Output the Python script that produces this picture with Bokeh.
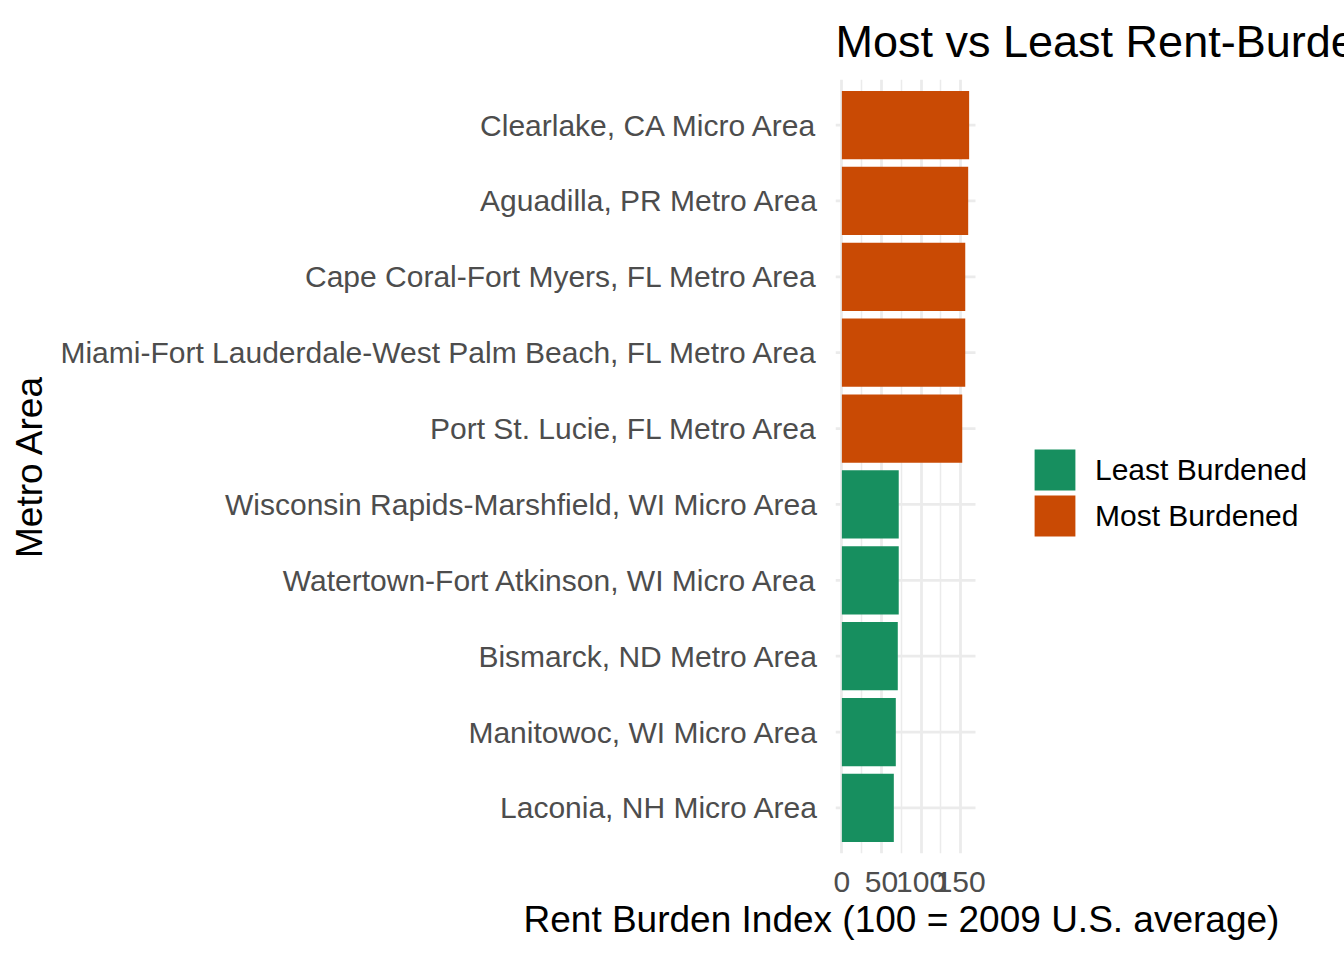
from bokeh.plotting import figure
from bokeh.models import (FactorRange, Range1d, FixedTicker, Legend, LegendItem,
                          ColumnDataSource, Title)
from bokeh.embed import file_html
from bokeh.resources import INLINE

# ---- data (bottom to top) ----
metros = [
    "Laconia, NH Micro Area",
    "Manitowoc, WI Micro Area",
    "Bismarck, ND Metro Area",
    "Watertown-Fort Atkinson, WI Micro Area",
    "Wisconsin Rapids-Marshfield, WI Micro Area",
    "Port St. Lucie, FL Metro Area",
    "Miami-Fort Lauderdale-West Palm Beach, FL Metro Area",
    "Cape Coral-Fort Myers, FL Metro Area",
    "Aguadilla, PR Metro Area",
    "Clearlake, CA Micro Area",
]
burden_index = [65.6, 68.1, 70.6, 71.8, 71.8, 152.0, 155.8, 155.8, 159.5, 160.7]
groups = ["Least Burdened"] * 5 + ["Most Burdened"] * 5
group_names = ["Least Burdened", "Most Burdened"]
group_colors = {"Least Burdened": "#178F5F", "Most Burdened": "#C94A04"}
x_ticks = [0, 50, 100, 150]
x_minor = [25, 75, 125]
x_title = "Rent Burden Index (100 = 2009 U.S. average)"
y_title = "Metro Area"
main_title = "Most vs Least Rent-Burdened Metro Areas"

FONT = "Liberation Sans"

W, H = 1344, 960
LEFT = 835            # left border (px)
PANEL_W = 140         # width of the data panel (px)
FRAME_W = W - LEFT    # frame extends to the right edge to host the legend

xmax = max(burden_index)
pad = 0.05 * xmax
x_lo, x_hi = -pad, xmax + pad
units_per_px = (x_hi - x_lo) / PANEL_W
x_end = x_lo + FRAME_W * units_per_px

p = figure(
    width=W, height=H,
    y_range=FactorRange(factors=metros, range_padding=0.1,
                        range_padding_units="absolute"),
    x_range=Range1d(x_lo, x_end),
    output_backend="svg", toolbar_location=None,
    min_border_left=LEFT, min_border_right=0,
    min_border_top=79, min_border_bottom=107,
    title=main_title,
)
p.outline_line_color = None
p.background_fill_color = "white"
p.border_fill_color = "white"

# horizontal grid lines, limited to the data panel
p.segment(x0=x_lo, x1=x_hi, y0=metros, y1=metros,
          line_color="#EBEBEB", line_width=2.8)

renderers = {}
for g in group_names:
    idx = [i for i, gg in enumerate(groups) if gg == g]
    src = ColumnDataSource(dict(
        y=[metros[i] for i in idx],
        right=[burden_index[i] for i in idx],
    ))
    renderers[g] = p.hbar(y="y", left=0, right="right", height=0.9, source=src,
                          fill_color=group_colors[g], line_color=None)

# axes
for ax in (p.xaxis, p.yaxis):
    ax.axis_line_color = None
    ax.major_tick_line_color = None
    ax.minor_tick_line_color = None
    ax.major_tick_out = 0
    ax.major_tick_in = 0
    ax.minor_tick_out = 0
    ax.minor_tick_in = 0
    ax.major_label_text_font = FONT
    ax.major_label_text_font_size = "30px"
    ax.major_label_text_color = "#4D4D4D"
    ax.axis_label_text_font = FONT
    ax.axis_label_text_font_size = "37px"
    ax.axis_label_text_font_style = "normal"
    ax.axis_label_text_color = "black"

p.xaxis.ticker = FixedTicker(ticks=x_ticks, minor_ticks=x_minor)
p.xaxis.bounds = (x_lo, x_hi)
p.xaxis.major_label_standoff = 18

p.yaxis.major_label_standoff = 17
p.yaxis.axis_label = y_title
p.yaxis.axis_label_standoff = 7

# x-axis title, centred under the data panel
xt = Title(text=x_title, align="left", offset=-312, standoff=4,
           text_font=FONT, text_font_size="37px", text_font_style="normal",
           text_color="black")
p.add_layout(xt, "below")

# grid
p.xgrid.grid_line_color = "#EBEBEB"
p.xgrid.grid_line_width = 2.8
p.xgrid.minor_grid_line_color = "#EBEBEB"
p.xgrid.minor_grid_line_width = 1.5
p.ygrid.grid_line_color = None

# title
p.title.text_font = FONT
p.title.text_font_size = "45px"
p.title.text_font_style = "normal"
p.title.text_color = "black"
p.title.align = "left"
p.title.vertical_align = "top"
p.title.standoff = 21

# legend: one entry per legend so the keys sit exactly
leg_y = {"Least Burdened": 358, "Most Burdened": 312}
for g in group_names:
    lg = Legend(
        items=[LegendItem(label=g, renderers=[renderers[g]])],
        location=(194, leg_y[g]),
        glyph_width=51, glyph_height=51, spacing=0,
        label_standoff=15, padding=0, margin=0,
        border_line_color=None, background_fill_alpha=0,
        label_text_font=FONT, label_text_font_size="30px",
        label_text_color="black",
    )
    p.add_layout(lg, "center")

open("out.html", "w").write(file_html(p, INLINE))
